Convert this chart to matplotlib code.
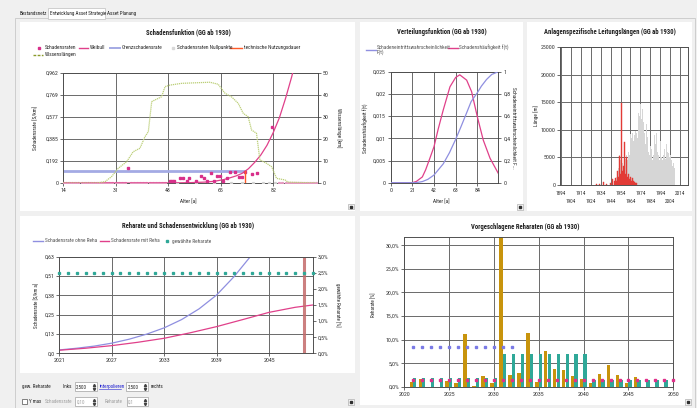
import matplotlib.pyplot as plt
from matplotlib.patches import Rectangle
from matplotlib.lines import Line2D

W, H = 697, 408
plt.rcParams['font.family'] = ['Roboto Condensed', 'DejaVu Sans']
plt.rcParams['font.size'] = 4.2

# --- Schadensfunktion ---
weib_age = [14, 45, 50, 55, 60, 63, 66, 68, 70, 72, 74, 76, 78, 80, 82, 84, 86, 88, 89]
weib_rate = [0, 0, 0.001, 0.003, 0.008, 0.015, 0.03, 0.045, 0.062, 0.085, 0.125, 0.18,
             0.245, 0.33, 0.44, 0.57, 0.74, 0.93, 1.04]
rate_age = [35.1, 48.6, 49.3, 49.9, 52.0, 52.9, 54.0, 54.9, 56.9, 58.8, 59.7, 60.6, 61.9,
            62.9, 63.9, 64.7, 65.8, 66.9, 68.0, 69.6, 70.9, 71.8, 72.8, 75.0, 76.8, 81.6]
rate_val = [0.128, 0.02, 0.02, 0.02, 0.041, 0.041, 0.018, 0.041, 0.015, 0.064, 0.041, 0.015,
            0.085, 0.018, 0.064, 0.064, 0.018, 0.044, 0.093, 0.099, 0.05, 0.05, 0.093, 0.076,
            0.085, 0.49]
zero_age = [14, 15, 16, 17, 18, 19, 20, 21, 22, 23, 24, 25, 26, 27, 28, 29, 30, 31, 32, 33,
            34, 36, 37, 38, 39, 40, 41, 42, 43, 44, 45, 46, 47, 84, 85, 86, 87, 88, 89, 90,
            91, 92, 93, 94, 95, 96]
null_age = [51, 57, 63, 68.3, 72, 75.6, 78.8, 80.5, 82.5]
grenz_age = [14, 72.8]
grenz_rate = [0.108, 0.108]
nutzung_age = 72.8
wl_age = [14, 25, 27.6, 29.7, 31.9, 34.6, 36.7, 38.9, 40.5, 41.6, 42.7, 43.7, 45.9, 47, 48.6,
          52.4, 61.5, 64.2, 66.4, 68.5, 70.7, 72.3, 73.9, 75, 76.6, 77.7, 79.8, 81.5, 83.1,
          85.8, 86.8, 96]
wl_len = [0, 0, 0.6, 2.9, 6.7, 9.7, 14.2, 15.8, 21, 23.3, 37, 37.7, 39.2, 43.8, 44.5, 45.3,
          45.8, 44.9, 40.8, 39.2, 36.2, 31.7, 30.1, 24.1, 22.6, 10.5, 9, 7.4, 2.1, 1.4, 0.4, 0]

# --- Verteilungsfunktion ---
f_age = [0, 21, 25, 30.7, 33.9, 38, 42, 46, 51, 57.5, 63, 67, 73.7, 78.5, 84, 89.8, 96.4, 104.4]
f_val = [0, 0, 0.0003, 0.0013, 0.0029, 0.0055, 0.0081, 0.012, 0.0164, 0.0216, 0.0237, 0.0243,
         0.0231, 0.0205, 0.0149, 0.0096, 0.0055, 0.0021]
F_age = [0, 21, 25, 30.7, 36, 42, 51, 57, 63, 68, 73.7, 78, 84, 88, 93, 98, 104.4]
F_val = [0, 0, 0.001, 0.01, 0.03, 0.069, 0.17, 0.27, 0.39, 0.5, 0.63, 0.73, 0.81, 0.87, 0.93,
         0.975, 1.0]

# --- Leitungslaengen ---
grey_year = list(range(1948, 2022))
grey_len = [500, 800, 1500, 2000, 3000, 5500, 4500, 5000, 4000, 3500, 5200, 4800, 5500, 4500,
            6000, 5500, 9200, 8500, 9500, 8000, 9000, 9800, 9500, 8500, 13000, 12500, 14700,
            12000, 13800, 11500, 9500, 7500, 11000, 8800, 6000, 5500, 7000, 6500, 4500, 5500,
            9000, 7500, 9500, 6000, 5500, 4500, 8000, 5000, 4500, 5500, 6500, 4800, 7500, 6000,
            5800, 5000, 5500, 4500, 3500, 4000, 3000, 3500, 4500, 3200, 2500, 3000, 2800, 3500,
            2800, 2500, 3600, 2200, 1500, 900]
red_year = [1930, 1933, 1937, 1940, 1944, 1946, 1948, 1949, 1950, 1951, 1952, 1953, 1954,
            1955, 1956, 1957, 1958, 1959, 1960, 1961, 1962, 1963, 1964, 1965, 1966, 1967,
            1968, 1969, 1970]
red_len = [100, 200, 600, 200, 300, 1000, 700, 1200, 800, 2500, 1500, 5200, 2000, 14800, 2500,
           3500, 7800, 2000, 5000, 1500, 2000, 1000, 1500, 800, 1200, 800, 500, 400, 300]

# --- Reharate und Schadensentwicklung ---
ohne_year = [2021, 2023, 2025, 2027, 2029, 2031, 2033, 2035, 2037, 2039, 2041, 2043, 2044]
ohne_rate = [0.022, 0.033, 0.047, 0.066, 0.092, 0.125, 0.166, 0.22, 0.29, 0.38, 0.5, 0.64, 0.72]
mit_year = [2021, 2024, 2027, 2030, 2033, 2036, 2039, 2042, 2045, 2048, 2050]
mit_rate = [0.02, 0.033, 0.05, 0.072, 0.098, 0.134, 0.174, 0.22, 0.267, 0.3, 0.315]
reha_year = list(range(2021, 2051))
reha_pct = [2.5] * len(reha_year)

# --- Vorgeschlagene Reharaten ---
bar_year = list(range(2021, 2051))
gold = [1.06, 1.6, 0, 0, 1.3, 0.85, 11.2, 0.1, 2.26, 0.85, 32, 2.5, 3.0, 11.5, 1.06, 7.6, 3.8,
        3.6, 2.3, 1.55, 0.85, 2.8, 4.6, 2.4, 0.78, 2.0, 0, 0, 0, 0]
teal = [1.9, 1.9, 1.9, 1.9, 1.9, 1.9, 1.9, 1.9, 1.9, 1.9, 6.9, 6.9, 6.9, 6.9, 6.9, 6.9, 6.9,
        6.9, 6.9, 6.9, 1.35, 1.35, 1.35, 1.35, 1.35, 1.35, 1.35, 1.35, 1.35, 0]
blue_year = list(range(2021, 2033))
blue_pct = [8.35] * len(blue_year)
pink_pct = [1.41] * len(bar_year)

PINK = '#e0408a'
LAV = '#8f8fe0'
TEAL = '#2fa898'
GOLD = '#c8940c'
TS = 4.8   # title size
LS = 3.8   # legend / label size
CS = 3.7   # controls / tabs size

fig = plt.figure(figsize=(W / 100, H / 100), dpi=100, facecolor='#f0f0f0')


def box(x0, y0, x1, y1):
    return [x0 / W, 1 - y1 / H, (x1 - x0) / W, (y1 - y0) / H]


def txt(x, y, s, **kw):
    kw.setdefault('ha', 'left')
    kw.setdefault('va', 'center')
    kw.setdefault('fontsize', LS)
    kw.setdefault('color', '#202020')
    fig.text(x / W, 1 - y / H, s, **kw)


def rect(x0, y0, x1, y1, fc='white', ec='none', lw=0.6, z=-5):
    fig.add_artist(Rectangle((x0 / W, 1 - y1 / H), (x1 - x0) / W, (y1 - y0) / H,
                             transform=fig.transFigure, fc=fc, ec=ec, lw=lw, zorder=z))


def legline(x0, x1, y, color, lw=1.0, ls='-'):
    fig.add_artist(Line2D([x0 / W, x1 / W], [1 - y / H, 1 - y / H], transform=fig.transFigure,
                          color=color, lw=lw, ls=ls))


def legdot(x, y, color, ms=1.6):
    fig.add_artist(Line2D([x / W], [1 - y / H], transform=fig.transFigure, marker='s', ms=ms,
                          color=color, ls='none'))


def style(ax):
    ax.set_facecolor('white')
    for s in ax.spines.values():
        s.set_color('#505050')
        s.set_linewidth(0.7)
    ax.grid(True, color='#6a6a6a', lw=0.7)
    ax.set_axisbelow(True)
    ax.tick_params(labelsize=4.2, length=2, width=0.5, pad=1.5, colors='#303030')


def twin_style(ax):
    ax.tick_params(labelsize=4.2, length=2, width=0.5, pad=1.5, colors='#303030')
    for s in ax.spines.values():
        s.set_visible(False)


def small_button(x, y):
    rect(x - 3, y - 3, x + 3, y + 3, fc='#f4f4f4', ec='#b0b0b0', lw=0.5, z=1)
    legdot(x, y, '#303030', ms=1.5)


def spinbox(x0, x1, y, value, grey=False):
    rect(x0, y - 4.5, x1, y + 4.5, fc='white', ec='#a0a0a0', lw=0.5, z=1)
    txt(x0 + 1.5, y, value, color='#a0a0a0' if grey else '#202020', fontsize=CS)
    fig.add_artist(Line2D([(x1 - 3) / W], [1 - (y - 2) / H], transform=fig.transFigure,
                          marker='^', ms=1.6, color='#404040', ls='none'))
    fig.add_artist(Line2D([(x1 - 3) / W], [1 - (y + 2) / H], transform=fig.transFigure,
                          marker='v', ms=1.6, color='#404040', ls='none'))


# window frame and tabs
rect(15, 18, 695, 408, fc='#f0f0f0', ec='#c8c8c8', z=-6)
rect(48, 8, 105, 19, fc='white', ec='#c8c8c8', z=-5)
txt(20, 13.5, 'Bestandsnetz', fontsize=CS)
txt(49.5, 13, 'Entwicklung Asset Strategie', fontsize=CS)
txt(107, 13.5, 'Asset Planung', fontsize=CS)

# white panels
rect(20, 22, 355, 211)
rect(360, 22, 523, 211)
rect(527, 22, 692, 211)
rect(20, 216, 355, 373)
rect(360, 216, 692, 405)

# ---------------- panel 1: Schadensfunktion ----------------
ax1 = fig.add_axes(box(63, 73, 318, 183))
style(ax1)
ax1.set_xlim(14, 96.5)
ax1.set_ylim(0, 0.962)
ax1.set_xticks([14, 31, 48, 65, 82])
ax1.set_yticks([0, 0.192, 0.385, 0.577, 0.769, 0.962])
ax1.set_yticklabels(['0', '0,192', '0,385', '0,577', '0,769', '0,962'])
ax1.plot(grenz_age, grenz_rate, color='#a4aae4', lw=2.0, zorder=2)
ax1.plot(weib_age, weib_rate, color=PINK, lw=0.9, zorder=4)
ax1.plot(null_age, [0] * len(null_age), ls='none', marker='s', ms=1.3, color='#d0d0d0', zorder=3)
ax1.plot(zero_age, [0] * len(zero_age), ls='none', marker='s', ms=1.3, color='#e49ac0', zorder=3)
ax1.plot(rate_age, rate_val, ls='none', marker='s', ms=1.6, color='#d8308a', zorder=5)
ax1.plot([nutzung_age, nutzung_age], [0, 0.108], color='#ff5a28', lw=1.0, zorder=5)
ax1r = ax1.twinx()
ax1r.set_ylim(0, 50)
ax1r.set_yticks([0, 10, 20, 30, 40, 50])
twin_style(ax1r)
ax1r.plot(wl_age, wl_len, color='#bccf78', lw=0.9, ls=(0, (1, 0.6)))

txt(188, 32, 'Schadensfunktion (GG ab 1930)', ha='center', fontsize=TS, fontweight='bold')
legdot(39, 47.7, '#d8308a')
txt(45, 47.7, 'Schadensraten')
legline(79, 88, 47.7, PINK)
txt(90, 47.7, 'Weibull')
legline(110, 120, 47.7, '#a4aae4', lw=1.4)
txt(122, 47.7, 'Grenzschadensrate')
legdot(173, 47.7, '#d8d8d8')
txt(177, 47.7, 'Schadensraten Nullpunkte')
legline(230, 242, 47.7, '#ff5a28')
txt(244, 47.7, 'technische Nutzungsdauer')
legline(33, 43, 54.5, '#8a9a2a', ls=(0, (2, 1)))
txt(45, 54.5, 'Wissenslängen')
txt(188, 201.5, 'Alter [a]', ha='center')
txt(36, 128, 'Schadensrate [S/km]', ha='center', rotation=90)
txt(339, 128, 'Wissenslänge [km]', ha='center', rotation=-90)
small_button(350.5, 206.5)

# ---------------- panel 2: Verteilungsfunktion ----------------
ax2 = fig.add_axes(box(390.7, 71.7, 498.3, 182.7))
style(ax2)
ax2.set_xlim(0, 104.4)
ax2.set_ylim(0, 0.025)
ax2.set_xticks([0, 21, 42, 63, 84])
ax2.set_yticks([0, 0.005, 0.01, 0.015, 0.02, 0.025])
ax2.set_yticklabels(['0', '0,005', '0,01', '0,015', '0,02', '0,025'])
ax2.plot(f_age, f_val, color=PINK, lw=0.9)
ax2r = ax2.twinx()
ax2r.set_ylim(0, 1)
ax2r.set_yticks([0, 0.2, 0.4, 0.6, 0.8, 1])
ax2r.set_yticklabels(['0', '0,2', '0,4', '0,6', '0,8', '1'])
twin_style(ax2r)
ax2r.plot(F_age, F_val, color=LAV, lw=0.9)

txt(441.7, 32.3, 'Verteilungsfunktion (GG ab 1930)', ha='center', fontsize=TS, fontweight='bold')
legline(366, 376, 50, LAV)
txt(377, 47.3, 'Schadeneintrittswahrscheinlichkeit', color='#505050', fontsize=3.8)
txt(377, 52.5, 'F(t)', color='#505050', fontsize=3.8)
legline(448, 458, 48, PINK)
txt(459, 48, 'Schadenshäufigkeit f(t)', color='#505050', fontsize=3.8)
txt(441.7, 201.5, 'Alter [a]', ha='center')
txt(366, 128, 'Schadenshäufigkeit f(t)', ha='center', rotation=90)
txt(513, 128, 'Schadeneintrittswahrscheinlichkeit F...', ha='center', rotation=-90)
small_button(520, 207)

# ---------------- panel 3: Leitungslaengen ----------------
ax3 = fig.add_axes(box(560, 47.3, 688, 185))
style(ax3)
ax3.set_xlim(1893, 2022)
ax3.set_ylim(0, 25000)
ticks3 = list(range(1894, 2015, 10))
ax3.set_xticks(ticks3)
ax3.set_xticklabels([str(t) if i % 2 == 0 else '\n' + str(t) for i, t in enumerate(ticks3)],
                    linespacing=1.9, fontsize=3.8)
ax3.set_yticks([0, 5000, 10000, 15000, 20000, 25000])
ax3.tick_params(axis='x', length=0, pad=4)
ax3.bar(grey_year, grey_len, width=0.8, color='#d6d6d6', zorder=2)
ax3.bar(red_year, red_len, width=0.9, color='#e23b36', edgecolor='#e23b36', lw=0.3, zorder=3)
txt(610, 32.3, 'Anlagenspezifische Leitungslängen (GG ab 1930)', ha='center', fontsize=TS,
    fontweight='bold')
txt(536, 116, 'Länge [m]', ha='center', rotation=90)

# ---------------- panel 4: Reharate und Schadensentwicklung ----------------
ax4 = fig.add_axes(box(59.3, 256.7, 312.7, 353.3))
style(ax4)
ax4.set_xlim(2021, 2050)
ax4.set_ylim(0, 0.63)
ax4.set_xticks([2021, 2027, 2033, 2039, 2045])
ax4.set_yticks([0, 0.126, 0.252, 0.378, 0.504, 0.63])
ax4.set_yticklabels(['0,0', '0,13', '0,25', '0,38', '0,51', '0,63'])
ax4.plot(ohne_year, ohne_rate, color=LAV, lw=0.9)
ax4.plot(mit_year, mit_rate, color=PINK, lw=0.9)
ax4.axvline(2049, color='#c46a6a', lw=2.2, alpha=0.85)
ax4.axvline(2021, color='#8b2525', lw=1.2)
ax4r = ax4.twinx()
ax4r.set_ylim(0, 3.0)
ax4r.set_yticks([0, 0.5, 1.0, 1.5, 2.0, 2.5, 3.0])
ax4r.set_yticklabels(['0,0%', '0,5%', '1,0%', '1,5%', '2,0%', '2,5%', '3,0%'])
twin_style(ax4r)
ax4r.plot(reha_year, reha_pct, ls='none', marker='s', ms=1.4, color=TEAL, clip_on=False)

txt(188, 225.7, 'Reharate und Schadensentwicklung (GG ab 1930)', ha='center', fontsize=TS,
    fontweight='bold')
legline(33, 43, 241, LAV)
txt(45, 241, 'Schadensrate ohne Reha', color='#505050')
legline(100, 109, 241, PINK)
txt(111, 241, 'Schadensrate mit Reha', color='#505050')
legdot(167, 241, TEAL)
txt(172, 241, 'gewählte Reharate', color='#505050')
txt(37, 305, 'Schadensrate [S/km a]', ha='center', rotation=90, fontsize=3.6)
txt(338, 305, 'gewählte Reharate [%]', ha='center', rotation=-90, fontsize=3.6)

# controls below panel 4
txt(22.5, 386.7, 'gew. Reharate', fontsize=CS)
txt(62.5, 386.7, 'links', fontsize=CS)
spinbox(74.7, 96.7, 386.7, '2,500')
txt(99.3, 386.7, 'interpolieren', color='#2020d0', fontsize=CS)
legline(99.3, 121, 389.3, '#2020d0', lw=0.4)
spinbox(126, 147.7, 386.7, '2,500')
txt(151, 386.7, 'rechts', fontsize=CS)
rect(21.7, 399, 26.7, 404, fc='white', ec='#505050', lw=0.5, z=1)
txt(29, 401.7, 'Y max', fontsize=CS)
txt(45, 401.7, 'Schadensrate', color='#a0a0a0', fontsize=CS)
spinbox(75, 96.7, 401.7, '0,10', grey=True)
txt(105, 401.7, 'Reharate', color='#a0a0a0', fontsize=CS)
spinbox(126.7, 147.7, 401.7, '0,1', grey=True)
small_button(350.5, 401.7)

# ---------------- panel 5: Vorgeschlagene Reharaten ----------------
ax5 = fig.add_axes(box(404.3, 237.3, 673.3, 386.7))
style(ax5)
ax5.set_xlim(2020, 2050)
ax5.set_ylim(0, 31.7)
ax5.set_xticks([2020, 2025, 2030, 2035, 2040, 2045, 2050])
ax5.set_yticks([0, 5, 10, 15, 20, 25, 30])
ax5.set_yticklabels(['0,0%', '5,0%', '10,0%', '15,0%', '20,0%', '25,0%', '30,0%'])
ax5.bar([y - 0.22 for y in bar_year], gold, width=0.38, color=GOLD, zorder=2)
ax5.bar([y + 0.17 for y in bar_year], teal, width=0.38, color=TEAL, zorder=2)
ax5.plot(blue_year, blue_pct, ls='none', marker='s', ms=1.5, color='#7a7ae6', zorder=3)
ax5.plot(bar_year, pink_pct, ls='none', marker='s', ms=1.5, color='#e0308a', zorder=4,
         clip_on=False)
txt(525, 227.3, 'Vorgeschlagene Reharaten (GG ab 1930)', ha='center', fontsize=TS,
    fontweight='bold')
txt(373.3, 305, 'Reharate [%]', ha='center', rotation=90, fontsize=3.6)
small_button(688, 401.7)

fig.savefig('out.png', dpi=100, facecolor=fig.get_facecolor())
